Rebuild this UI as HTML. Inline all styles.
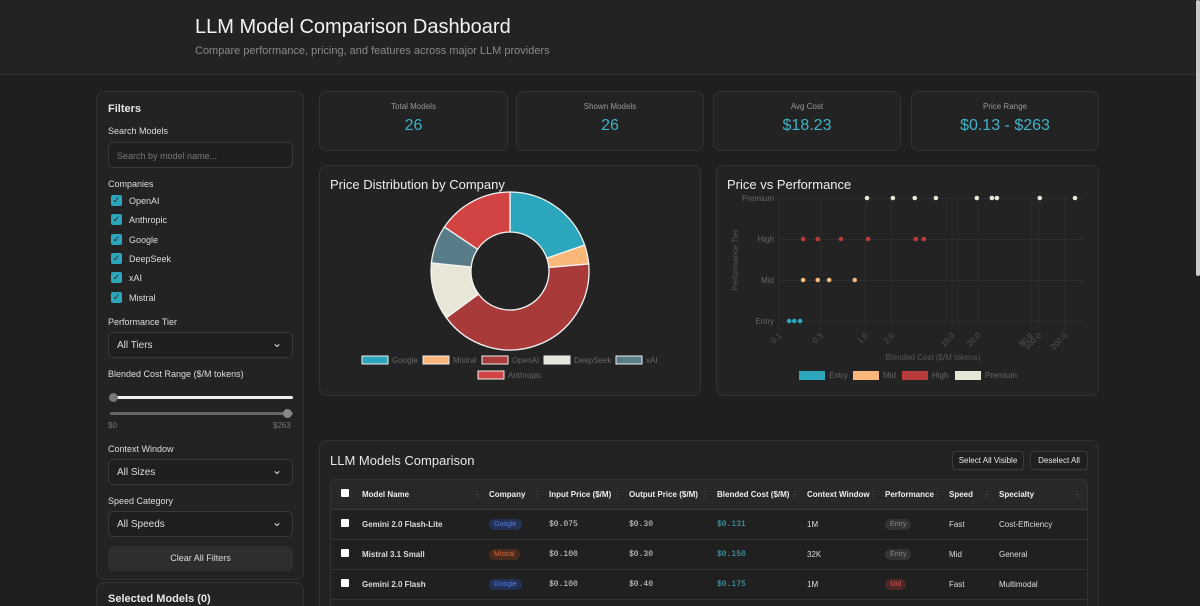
<!DOCTYPE html>
<html style="width:1200px;height:606px;overflow:hidden"><head><meta charset="utf-8">
<style>
*{box-sizing:border-box;margin:0;padding:0}
body{width:1200px;height:606px;overflow:hidden;background:#1e1f1e;font-family:"Liberation Sans",sans-serif;color:#e8e8e8;position:relative}
.abs{position:absolute}
.card{position:absolute;background:#232323;border:1px solid #333;border-radius:8px;overflow:hidden}
.lbl{position:absolute;font-size:9px;color:#ddd}
.sel{position:absolute;left:11px;width:185px;height:26px;border:1px solid #3a3a3a;border-radius:5px;background:#1f1f1f;font-size:10px;color:#ddd;padding:7px 0 0 8px}
.dd:after{content:"⌄";position:absolute;right:10px;top:3px;font-size:12px}
.cb{position:absolute;left:14px;width:11px;height:11px;background:#2ba6bc;border-radius:2px;color:#222;font-size:9px;line-height:11px;text-align:center}
.cbl{position:absolute;left:32px;font-size:9px;color:#ddd}
.stat{position:absolute;top:91px;height:60px;text-align:center}
.stat .t{font-size:8px;color:#999;margin-top:10px}
.stat .v{font-size:16px;color:#3fb3c6;margin-top:6px}
table{border-collapse:collapse;font-size:8px}
th{font-weight:bold;text-align:left;color:#eee;height:29px;border-bottom:1px solid #3a3a3a;padding-left:0;position:relative}
th .s{position:absolute;right:8px;top:10px;color:#666;font-weight:normal}
td{height:30px;border-bottom:1px solid #333;color:#ddd}
.pill{display:inline-block;padding:2px 5px;border-radius:8px;font-size:7px}
.mono{font-family:"Liberation Mono",monospace}
.wb{display:inline-block;width:8px;height:8px;background:#fff;border-radius:1px}
</style></head><body>
<div class="abs" style="left:0;top:0;width:1196px;height:75px;background:#232323;border-bottom:1px solid #333"></div>
<div class="abs" style="left:195px;top:16px;font-size:20px;color:#f2f2f2">LLM Model Comparison Dashboard</div>
<div class="abs" style="left:195px;top:45px;font-size:11px;color:#888">Compare performance, pricing, and features across major LLM providers</div>
<div class="abs" style="left:1196px;top:0;width:4px;height:276px;background:#ccc;border-radius:2px"></div>

<div class="card" style="left:96px;top:91px;width:208px;height:489px">
 <div class="abs" style="left:11px;top:11px;font-size:11px;font-weight:bold">Filters</div>
 <div class="lbl" style="left:11px;top:34px">Search Models</div>
 <div class="sel" style="top:50px;color:#777;font-size:9px;padding-top:8px">Search by model name...</div>
 <div class="lbl" style="left:11px;top:87px">Companies</div>
 <div class="cb" style="top:103px">✓</div><div class="cbl" style="top:104px">OpenAI</div>
 <div class="cb" style="top:122px">✓</div><div class="cbl" style="top:123px">Anthropic</div>
 <div class="cb" style="top:142px">✓</div><div class="cbl" style="top:143px">Google</div>
 <div class="cb" style="top:161px">✓</div><div class="cbl" style="top:162px">DeepSeek</div>
 <div class="cb" style="top:180px">✓</div><div class="cbl" style="top:181px">xAI</div>
 <div class="cb" style="top:200px">✓</div><div class="cbl" style="top:201px">Mistral</div>
 <div class="lbl" style="left:11px;top:225px">Performance Tier</div>
 <div class="sel dd" style="top:240px">All Tiers</div>
 <div class="lbl" style="left:11px;top:277px">Blended Cost Range ($/M tokens)</div>
 <div class="abs" style="left:13px;top:304px;width:183px;height:3px;background:#eee;border-radius:2px"></div>
 <div class="abs" style="left:12px;top:301px;width:9px;height:9px;border-radius:50%;background:#777"></div>
 <div class="abs" style="left:13px;top:320px;width:183px;height:3px;background:#666;border-radius:2px"></div>
 <div class="abs" style="left:186px;top:317px;width:9px;height:9px;border-radius:50%;background:#888"></div>
 <div class="abs" style="left:11px;top:329px;font-size:8px;color:#777">$0</div>
 <div class="abs" style="left:176px;top:329px;font-size:8px;color:#777">$263</div>
 <div class="lbl" style="left:11px;top:352px">Context Window</div>
 <div class="sel dd" style="top:367px">All Sizes</div>
 <div class="lbl" style="left:11px;top:404px">Speed Category</div>
 <div class="sel dd" style="top:419px">All Speeds</div>
 <div class="abs" style="left:11px;top:454px;width:185px;height:25px;background:#2e2e2e;border-radius:5px;font-size:9px;text-align:center;line-height:25px;color:#ddd">Clear All Filters</div>
</div>
<div class="card" style="left:96px;top:582px;width:208px;height:30px">
 <div class="abs" style="left:11px;top:10px;font-size:11px;font-weight:bold">Selected Models (0)</div>
</div>

<div class="card stat" style="left:319px;width:189px"><div class="t">Total Models</div><div class="v">26</div></div>
<div class="card stat" style="left:516px;width:188px"><div class="t">Shown Models</div><div class="v">26</div></div>
<div class="card stat" style="left:713px;width:188px"><div class="t">Avg Cost</div><div class="v">$18.23</div></div>
<div class="card stat" style="left:911px;width:188px"><div class="t">Price Range</div><div class="v">$0.13 - $263</div></div>

<div class="card" style="left:319px;top:165px;width:382px;height:231px"></div>
<div class="card" style="left:716px;top:165px;width:383px;height:231px"></div>
<svg class="abs" style="left:0;top:0" width="1200" height="606" id="charts">
 <text x="330" y="189" font-size="13" fill="#eee">Price Distribution by Company</text>
 <text x="727" y="189" font-size="13" fill="#eee">Price vs Performance</text>
 <g id="donut"></g><g id="donutLegend"></g><g id="scatter"></g>
</svg>

<div class="card" style="left:319px;top:440px;width:780px;height:175px">
 <div class="abs" style="left:10px;top:12px;font-size:13px">LLM Models Comparison</div>
 <div class="abs" style="left:632px;top:10px;width:72px;height:19px;border:1px solid #3a3a3a;border-radius:4px;font-size:8px;text-align:center;line-height:17px;background:#1f1f1f">Select All Visible</div>
 <div class="abs" style="left:710px;top:10px;width:58px;height:19px;border:1px solid #3a3a3a;border-radius:4px;font-size:8px;text-align:center;line-height:17px;background:#1f1f1f">Deselect All</div>
 <div class="abs" style="left:10px;top:38px;width:758px;height:140px;border:1px solid #333;border-radius:6px;overflow:hidden;background:#202020">
 <table style="width:758px">
  <tr style="background:#282828"><th style="width:31px;padding-left:10px"><span class="wb"></span></th><th style="width:127px">Model Name<span class="s">⋮</span></th><th style="width:60px">Company<span class="s">⋮</span></th><th style="width:80px">Input Price ($/M)<span class="s">⋮</span></th><th style="width:88px">Output Price ($/M)<span class="s">⋮</span></th><th style="width:90px">Blended Cost ($/M)<span class="s">⋮</span></th><th style="width:78px">Context Window<span class="s">⋮</span></th><th style="width:64px">Performance<span class="s">⋮</span></th><th style="width:50px">Speed<span class="s">⋮</span></th><th>Specialty<span class="s">⋮</span></th></tr>
  <tr><td style="padding-left:10px"><span class="wb"></span></td><td><b>Gemini 2.0 Flash-Lite</b></td><td><span class="pill" style="background:#223056;color:#5a7fd8">Google</span></td><td class="mono">$0.075</td><td class="mono">$0.30</td><td class="mono" style="color:#3fb3c6">$0.131</td><td>1M</td><td><span class="pill" style="background:#333;color:#888">Entry</span></td><td>Fast</td><td>Cost-Efficiency</td></tr>
  <tr><td style="padding-left:10px"><span class="wb"></span></td><td><b>Mistral 3.1 Small</b></td><td><span class="pill" style="background:#4a2a1c;color:#d8683a">Mistral</span></td><td class="mono">$0.100</td><td class="mono">$0.30</td><td class="mono" style="color:#3fb3c6">$0.150</td><td>32K</td><td><span class="pill" style="background:#333;color:#888">Entry</span></td><td>Mid</td><td>General</td></tr>
  <tr><td style="padding-left:10px"><span class="wb"></span></td><td><b>Gemini 2.0 Flash</b></td><td><span class="pill" style="background:#223056;color:#5a7fd8">Google</span></td><td class="mono">$0.100</td><td class="mono">$0.40</td><td class="mono" style="color:#3fb3c6">$0.175</td><td>1M</td><td><span class="pill" style="background:#4a2626;color:#d0584f">Mid</span></td><td>Fast</td><td>Multimodal</td></tr>
 </table></div>
</div>

<script>
const companies=["Google","Mistral","OpenAI","DeepSeek","xAI","Anthropic"];
const companyShare=[19.7,3.9,41.4,11.7,7.8,15.6];
const companyColors=["#2ba6bc","#f9b87a","#a83a3a","#e8e6d6","#587c88","#d24343"];
const tiers=["Entry","Mid","High","Premium"];
const entryCosts=[0.131,0.150,0.175];
const midCosts=[0.19,0.28,0.38,0.75];
const highCosts=[0.19,0.28,0.52,1.07,3.8,4.7];
const premiumCosts=[1.04,2.07,3.7,6.5,19.3,28.8,32.9,103,263];
const tierColors=["#2ba6bc","#f9b87a","#b83c3c","#e8e6d6"];
const xTicks=[0.1,0.3,1.0,2.0,10.0,20.0,80.0,100.0,200.0];
const NS="http://www.w3.org/2000/svg";
function mk(tag,attrs,parent){const e=document.createElementNS(NS,tag);for(const k in attrs)e.setAttribute(k,attrs[k]);parent.appendChild(e);return e;}
const cx=510,cy=271,R=79,r=39;
const total=companyShare.reduce((a,b)=>a+b,0);
let ang=0;const dg=document.getElementById('donut');
companyShare.forEach((v,i)=>{
 const a0=ang,a1=ang+v/total*2*Math.PI;ang=a1;
 const p=(a,rr)=>[cx+rr*Math.sin(a),cy-rr*Math.cos(a)];
 const [x0,y0]=p(a0,R),[x1,y1]=p(a1,R),[x2,y2]=p(a1,r),[x3,y3]=p(a0,r);
 const lg=(a1-a0)>Math.PI?1:0;
 const s=mk('path',{d:`M${x0},${y0}A${R},${R} 0 ${lg} 1 ${x1},${y1}L${x2},${y2}A${r},${r} 0 ${lg} 0 ${x3},${y3}Z`,fill:companyColors[i],stroke:"#f4f4f4","stroke-width":1.3},dg);
 
 
});
const lgd=document.getElementById('donutLegend');
const legX=[362,423,482,544,616,478],legY=[360,360,360,360,360,375];
companies.forEach((c,i)=>{
 const g=mk('g',{},lgd);
 
 
 mk('rect',{x:legX[i],y:legY[i]-4,width:26,height:8,fill:companyColors[i],stroke:"#eee","stroke-width":1},g);
 const t=mk('text',{x:legX[i]+30,y:legY[i]+3,"font-size":8,fill:"#666"},g);t.textContent=c;
});
const sg=document.getElementById('scatter');
const X0=779,X1=1075,lmin=Math.log10(0.1),lmax=Math.log10(263);
const xs=v=>X0+(Math.log10(v)-lmin)/(lmax-lmin)*(X1-X0);
const tierY=[321,280,239,198];
const ys=i=>tierY[0]+(tierY[3]-tierY[0])*i/3;
for(let i=0;i<4;i++){mk('line',{x1:782,x2:1083,y1:ys(i)+0.5,y2:ys(i)+0.5,stroke:"#2c2c2c"},sg);}
xTicks.forEach(v=>{mk('line',{x1:xs(v),x2:xs(v),y1:196,y2:330,stroke:"#2c2c2c"},sg);
 const t=mk('text',{x:xs(v)+3,y:336,"font-size":8,fill:"#555","text-anchor":"end",transform:`rotate(-45 ${xs(v)+3} 336)`},sg);t.textContent=v.toFixed(1);});
tiers.forEach((t,i)=>{const e=mk('text',{x:774,y:ys(i)+3,"font-size":8,fill:"#666","text-anchor":"end"},sg);e.textContent=t;});
const yt=mk('text',{x:738,y:260,"font-size":8,fill:"#555","text-anchor":"middle",transform:"rotate(-90 738 260)"},sg);yt.textContent="Performance Tier";
const xt=mk('text',{x:933,y:360,"font-size":8,fill:"#555","text-anchor":"middle"},sg);xt.textContent="Blended Cost ($/M tokens)";
[entryCosts,midCosts,highCosts,premiumCosts].forEach((arr,ti)=>{
 arr.forEach(v=>{const c=mk('circle',{cx:xs(v),cy:ys(ti),r:2.3,fill:tierColors[ti]},sg);
  
  });
});
const sLegX=[799,853,902,955];
tiers.forEach((t,i)=>{
 const g=mk('g',{},sg);
 
 
 mk('rect',{x:sLegX[i],y:371,width:26,height:9,fill:tierColors[i]},g);
 const e=mk('text',{x:sLegX[i]+30,y:378,"font-size":8,fill:"#666"},g);e.textContent=t;
});
</script>
</body></html>
